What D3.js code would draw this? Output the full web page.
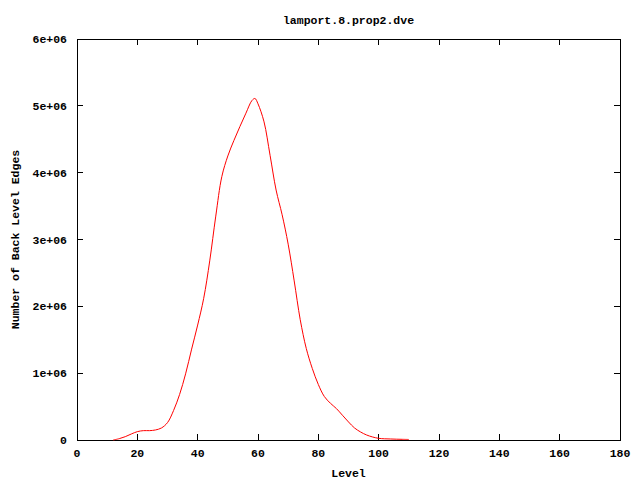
<!DOCTYPE html>
<html><head><meta charset="utf-8">
<script src="https://cdn.jsdelivr.net/npm/d3@7"></script>
<style>
body{margin:0;background:#fff;}
text{font-family:"Liberation Mono","DejaVu Sans Mono",monospace;font-weight:bold;font-size:11.5px;fill:#000;}
</style></head><body>
<svg id="c" width="640" height="480"></svg>
<script>
const title = "lamport.8.prop2.dve";
const xLabel = "Level";
const yLabel = "Number of Back Level Edges";
const levels = [12,14,16,18,20,22,24,26,28,30,32,34,36,38,40,42,44,46,48,50,52,54,56,58,59,60,62,64,66,68,70,72,74,76,78,80,82,84,86,88,90,92,94,96,98,100,102,104,106,108,110];
const edges = [0,20000,50000,90000,125000,140000,140000,150000,180000,260000,440000,680000,990000,1360000,1720000,2120000,2680000,3350000,3940000,4250000,4480000,4690000,4890000,5080000,5110000,5030000,4760000,4260000,3740000,3370000,2930000,2380000,1800000,1370000,1070000,830000,650000,550000,470000,370000,270000,180000,120000,75000,45000,25000,18000,15000,12000,10000,8000];
const xTicks = [0,20,40,60,80,100,120,140,160,180];
const yTicks = [0,1e6,2e6,3e6,4e6,5e6,6e6];
const yTickLabels = ["0","1e+06","2e+06","3e+06","4e+06","5e+06","6e+06"];

const L=77,R=620,T=39,B=440;
const svg=d3.select("#c");
const x=d3.scaleLinear().domain([0,180]).range([L,R]);
const y=d3.scaleLinear().domain([0,6e6]).range([B,T]);
const tl=6;

// ticks (inward, mirrored)
const g=svg.append("g").attr("stroke","#000").attr("stroke-width",1).attr("shape-rendering","crispEdges");
xTicks.forEach(t=>{
  g.append("line").attr("x1",x(t)).attr("x2",x(t)).attr("y1",B).attr("y2",B-tl);
  g.append("line").attr("x1",x(t)).attr("x2",x(t)).attr("y1",T).attr("y2",T+tl);
});
yTicks.forEach(t=>{
  g.append("line").attr("x1",L).attr("x2",L+tl).attr("y1",y(t)).attr("y2",y(t));
  g.append("line").attr("x1",R).attr("x2",R-tl).attr("y1",y(t)).attr("y2",y(t));
});
g.append("rect").attr("x",L).attr("y",T).attr("width",R-L).attr("height",B-T).attr("fill","none");

xTicks.forEach(t=>{
  svg.append("text").attr("x",x(t)).attr("y",B+17).attr("text-anchor","middle").text(t);
});
yTicks.forEach((t,i)=>{
  svg.append("text").attr("x",67).attr("y",y(t)+4).attr("text-anchor","end").text(yTickLabels[i]);
});

const line=d3.line().x((d,i)=>x(levels[i])).y(d=>y(d)).curve(d3.curveCatmullRom);
svg.append("path").datum(edges).attr("d",line).attr("fill","none").attr("stroke","#ff0000").attr("stroke-width",1);

svg.append("text").attr("x",(L+R)/2).attr("y",24).attr("text-anchor","middle").text(title);
svg.append("text").attr("x",(L+R)/2).attr("y",477).attr("text-anchor","middle").text(xLabel);
svg.append("text").attr("transform",`translate(19,${(T+B)/2}) rotate(-90)`).attr("text-anchor","middle").text(yLabel);
</script></body></html>
